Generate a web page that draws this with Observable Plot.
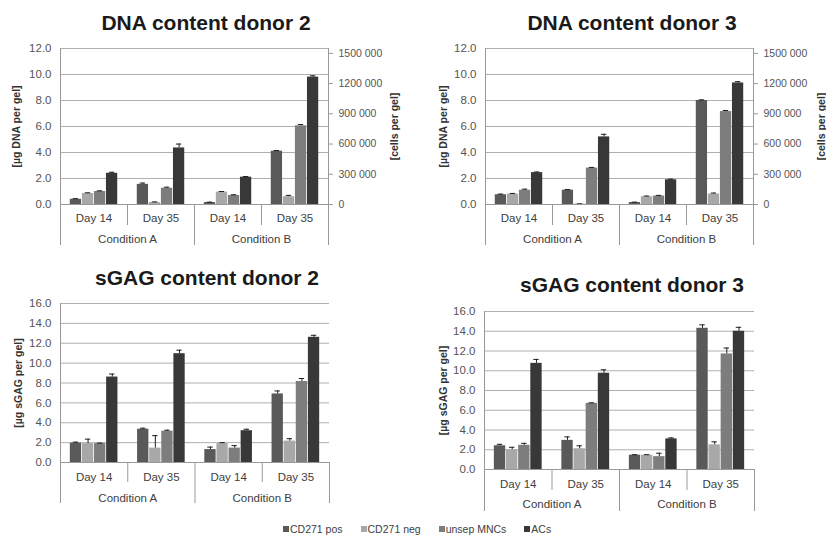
<!DOCTYPE html>
<html><head><meta charset="utf-8">
<script src="https://cdn.jsdelivr.net/npm/d3@7"></script>
<script src="https://cdn.jsdelivr.net/npm/@observablehq/plot@0.6"></script>
<style>
body{margin:0;background:#fff;font-family:"Liberation Sans",Arial,sans-serif;}
#wrap{position:relative;width:826px;height:536px;overflow:hidden;background:#fff;}
.panel{position:absolute;}
.title{position:absolute;font-weight:bold;font-size:21px;line-height:21px;color:#1a1a1a;text-align:center;width:400px;white-space:nowrap;}
.legend{position:absolute;left:283px;top:522px;display:flex;gap:18px;font-size:10.5px;line-height:14px;color:#404040;white-space:nowrap;}
.legend span.sw{display:inline-block;width:6px;height:6px;margin-right:1px;vertical-align:1px;}
</style></head><body><div id="wrap"></div>
<script>
// ---- data ----
const groupLabels = ["Day 14", "Day 35", "Day 14", "Day 35"];
const conditionLabels = ["Condition A", "Condition B"];
const seriesNames = ["CD271 pos", "CD271 neg", "unsep MNCs", "ACs"];
const seriesColors = ["#595959", "#a8a8a8", "#7d7d7d", "#383838"];
const dnaTicks = [0, 2, 4, 6, 8, 10, 12];
const gagTicks = [0, 2, 4, 6, 8, 10, 12, 14, 16];
const cellTicks = [0, 300000, 600000, 900000, 1200000, 1500000];
const cellsPerUg = 129000;

// values per series (rows) x groups (A D14, A D35, B D14, B D35)
const dna2Values = [[0.4, 1.55, 0.15, 4.1], [0.85, 0.15, 0.95, 0.6], [1.0, 1.25, 0.7, 6.05], [2.4, 4.35, 2.1, 9.8]];
const dna2Errors = [[0.05, 0.1, 0.03, 0.05], [0.05, 0.05, 0.05, 0.1], [0.05, 0.08, 0.05, 0.1], [0.08, 0.3, 0.05, 0.1]];
const dna3Values = [[0.75, 1.1, 0.15, 8.0], [0.8, 0.03, 0.6, 0.8], [1.1, 2.8, 0.65, 7.15], [2.45, 5.2, 1.9, 9.35]];
const dna3Errors = [[0.05, 0.05, 0.03, 0.05], [0.05, 0.02, 0.05, 0.08], [0.08, 0.05, 0.05, 0.08], [0.05, 0.2, 0.05, 0.1]];
const gag2Values = [[1.95, 3.35, 1.3, 6.9], [1.9, 1.45, 1.9, 2.15], [1.9, 3.15, 1.45, 8.15], [8.6, 10.95, 3.2, 12.6]];
const gag2Errors = [[0.1, 0.1, 0.25, 0.3], [0.45, 1.25, 0.1, 0.25], [0.05, 0.1, 0.25, 0.3], [0.3, 0.35, 0.15, 0.2]];
const gag3Values = [[2.4, 2.95, 1.45, 14.3], [2.0, 2.1, 1.45, 2.5], [2.45, 6.7, 1.3, 11.7], [10.75, 9.75, 3.1, 14.0]];
const gag3Errors = [[0.15, 0.35, 0.05, 0.35], [0.25, 0.3, 0.05, 0.3], [0.2, 0.05, 0.35, 0.6], [0.4, 0.35, 0.1, 0.4]];

const titles = ["DNA content donor 2", "DNA content donor 3", "sGAG content donor 2", "sGAG content donor 3"];
const dnaTitle = "[µg DNA per gel]";
const cellTitle = "[cells per gel]";
const gagTitle = "[µg sGAG per gel]";

// ---- drawing ----
const wrap = document.getElementById("wrap");
const W = 0.18, OFF = 0.14;
const fmtCells = v => v === 0 ? "0" : `${Math.floor(v / 1000)} ${String(v % 1000).padStart(3, "0")}`;

function panel(cfg) {
  const rows = [];
  cfg.values.forEach((arr, s) => arr.forEach((v, g) => rows.push({series: seriesNames[s], s, g, value: v, err: cfg.errors[s][g]})));
  const cx = d => d.g + OFF + (d.s + 0.5) * W;
  const marks = [
    Plot.gridY({ticks: cfg.yTicks, stroke: "#b0b0b0", strokeOpacity: 1}),
    Plot.axisY({ticks: cfg.yTicks, tickSize: 0, tickPadding: 9, tickFormat: d => d.toFixed(1), fontSize: 11.5, fill: "#555", label: null}),
    Plot.rectY(rows, {x1: d => d.g + OFF + d.s * W, x2: d => d.g + OFF + (d.s + 1) * W, y: "value", fill: "series", insetLeft: 0.4, insetRight: 0.4}),
    Plot.ruleX(rows, {x: cx, y1: "value", y2: d => d.value + d.err, stroke: "#1e1e1e"}),
    Plot.ruleY(rows, {y: d => d.value + d.err, x1: d => cx(d) - 0.04, x2: d => cx(d) + 0.04, stroke: "#1e1e1e"}),
    Plot.ruleX([0], {stroke: "#999"}),
    Plot.ruleY([0], {stroke: "#999"}),
    Plot.axisX({ticks: [0, 2, 4], tickSize: cfg.longSep, tickFormat: () => "", stroke: "#999", label: null}),
    Plot.axisX({ticks: [1, 3], tickSize: cfg.shortSep, tickFormat: () => "", stroke: "#999", label: null}),
    Plot.axisX({ticks: [0.5, 1.5, 2.5, 3.5], tickSize: 0, tickPadding: cfg.dayPad, tickFormat: v => groupLabels[Math.floor(v)], fontSize: 11.5, fill: "#404040", label: null}),
    Plot.axisX({ticks: [1, 3], tickSize: 0, tickPadding: cfg.condPad, tickFormat: v => conditionLabels[(v - 1) / 2], fontSize: 11.5, fill: "#404040", label: null}),
    Plot.text([cfg.yTitle], {text: d => d, frameAnchor: "left", textAnchor: "middle", rotate: -90, dx: cfg.titleDx, fontWeight: "bold", fontSize: 10.5, fill: "#333"})
  ];
  if (cfg.right) {
    marks.push(
      Plot.ruleX([4], {stroke: "#999"}),
      Plot.axisY({anchor: "right", ticks: cellTicks.map(c => c / cellsPerUg), tickSize: 4, tickPadding: 6, stroke: "#999",
        tickFormat: v => fmtCells(Math.round(v * cellsPerUg / 1000) * 1000), fontSize: 10.5, fill: "#555", label: null}),
      Plot.text([cellTitle], {text: d => d, frameAnchor: "right", textAnchor: "middle", rotate: -90, dx: cfg.rightDx, fontWeight: "bold", fontSize: 10.5, fill: "#333"})
    );
  }
  const svg = Plot.plot({
    width: cfg.width, height: cfg.height,
    marginLeft: cfg.ml, marginRight: cfg.mr, marginTop: cfg.mt, marginBottom: cfg.mb,
    x: {domain: [0, 4], axis: null},
    y: {domain: [0, cfg.yMax], axis: null},
    color: {domain: seriesNames, range: seriesColors},
    style: {fontFamily: "'Liberation Sans', Arial, sans-serif", background: "transparent", overflow: "visible"},
    marks
  });
  svg.classList.add("panel");
  svg.style.left = cfg.left + "px";
  svg.style.top = cfg.top + "px";
  wrap.appendChild(svg);
  const t = document.createElement("div");
  t.className = "title";
  t.textContent = cfg.title;
  t.style.left = (cfg.titleX - 200) + "px";
  t.style.top = cfg.titleTop + "px";
  wrap.appendChild(t);
}

panel({values: dna2Values, errors: dna2Errors, yTicks: dnaTicks, yMax: 12, yTitle: dnaTitle, right: true,
  left: 0, top: 0, width: 413, height: 260, ml: 60, mr: 85, mt: 48, mb: 56,
  longSep: 41, shortSep: 21, dayPad: 9, condPad: 30, titleDx: -44, rightDx: 66,
  title: titles[0], titleX: 206, titleTop: 12});
panel({values: dna3Values, errors: dna3Errors, yTicks: dnaTicks, yMax: 12, yTitle: dnaTitle, right: true,
  left: 413, top: 0, width: 413, height: 260, ml: 72, mr: 73, mt: 48, mb: 56,
  longSep: 41, shortSep: 21, dayPad: 9, condPad: 30, titleDx: -42, rightDx: 68,
  title: titles[1], titleX: 632, titleTop: 12});
panel({values: gag2Values, errors: gag2Errors, yTicks: gagTicks, yMax: 16, yTitle: gagTitle, right: false,
  left: 0, top: 260, width: 413, height: 276, ml: 60, mr: 84, mt: 43, mb: 74,
  longSep: 41, shortSep: 20, dayPad: 10, condPad: 31, titleDx: -42,
  title: titles[2], titleX: 207, titleTop: 267});
panel({values: gag3Values, errors: gag3Errors, yTicks: gagTicks, yMax: 16, yTitle: gagTitle, right: false,
  left: 413, top: 260, width: 413, height: 276, ml: 71, mr: 72, mt: 51, mb: 67,
  longSep: 42, shortSep: 21, dayPad: 10, condPad: 30, titleDx: -41,
  title: titles[3], titleX: 632, titleTop: 274});

// legend
const lg = document.createElement("div");
lg.className = "legend";
seriesNames.forEach((n, i) => {
  const item = document.createElement("span");
  const sw = document.createElement("span");
  sw.className = "sw";
  sw.style.background = seriesColors[i];
  item.appendChild(sw);
  item.appendChild(document.createTextNode(n));
  lg.appendChild(item);
});
wrap.appendChild(lg);
</script>
</body></html>
